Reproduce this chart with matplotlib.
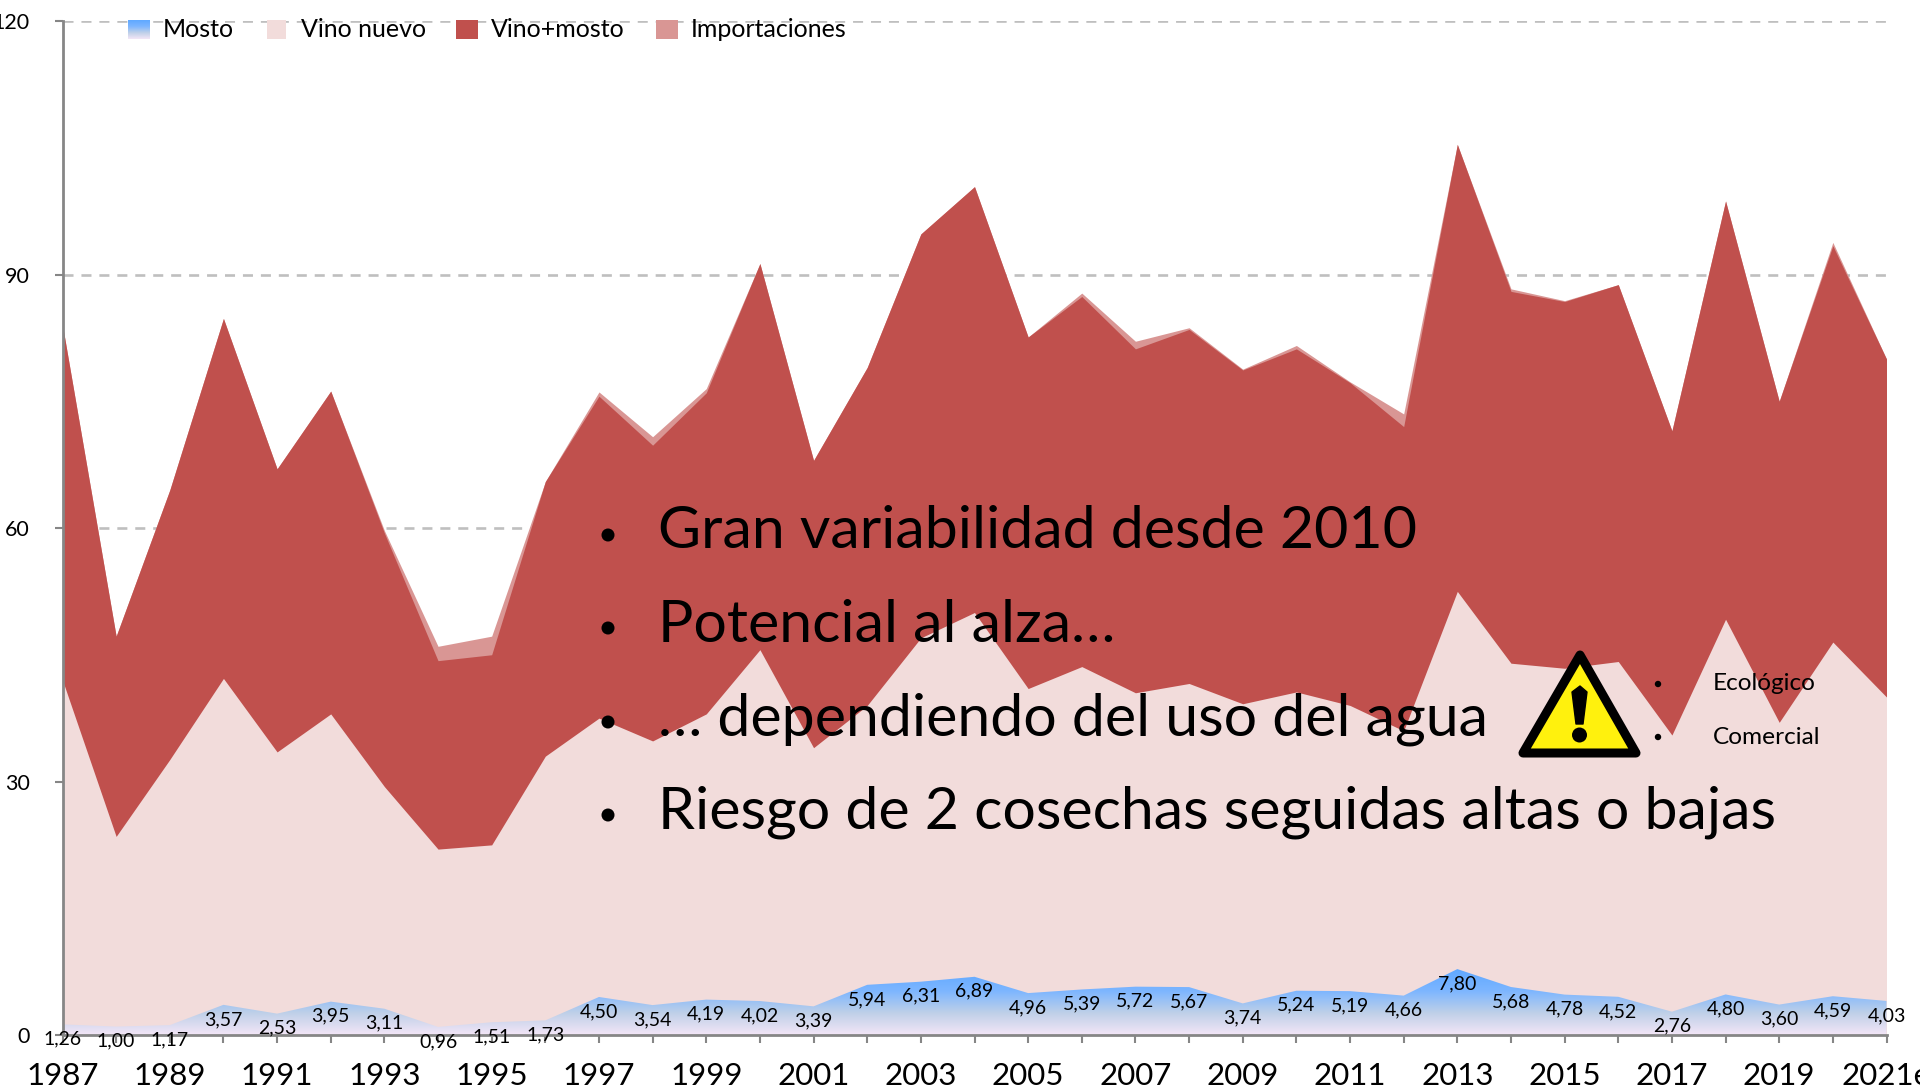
import numpy as np
import matplotlib
matplotlib.use("Agg")
import matplotlib.pyplot as plt
from matplotlib.colors import LinearSegmentedColormap
from matplotlib.patches import Polygon, Rectangle, Circle
from matplotlib.transforms import Affine2D

plt.rcParams['font.family'] = ['Lato', 'DejaVu Sans']

W, H = 1920, 1089

years = list(range(1987, 2022))
year_labels = [str(y) if y < 2021 else "2021e" for y in years]

mosto = [1.26, 1.00, 1.17, 3.57, 2.53, 3.95, 3.11, 0.96, 1.51, 1.73,
         4.50, 3.54, 4.19, 4.02, 3.39, 5.94, 6.31, 6.89, 4.96, 5.39,
         5.72, 5.67, 3.74, 5.24, 5.19, 4.66, 7.80, 5.68, 4.78, 4.52,
         2.76, 4.80, 3.60, 4.59, 4.03]

vino_nuevo = [42.0, 23.5, 32.6, 42.2, 33.5, 38.0, 29.4, 22.0, 22.5, 33.0,
              37.5, 34.8, 38.0, 45.6, 34.0, 39.0, 47.0, 50.0, 41.0, 43.6,
              40.5, 41.6, 39.2, 40.6, 39.0, 36.0, 52.5, 44.0, 43.4, 44.2,
              35.5, 49.2, 37.0, 46.5, 40.0]

vino_mosto = [84.0, 47.2, 64.5, 84.8, 67.0, 76.2, 59.4, 44.3, 45.0, 65.5,
              75.6, 69.8, 76.0, 91.3, 68.0, 79.0, 94.8, 100.4, 82.6, 87.4,
              81.2, 83.5, 78.7, 81.2, 77.2, 72.0, 105.4, 88.0, 86.8, 88.8,
              71.5, 98.7, 75.0, 93.4, 80.0]

importaciones = [0.0, 0.0, 0.0, 0.0, 0.0, 0.0, 0.3, 1.7, 2.2, 0.0,
                 0.5, 1.0, 0.5, 0.0, 0.0, 0.0, 0.0, 0.0, 0.0, 0.4,
                 0.9, 0.2, 0.1, 0.4, 0.1, 1.5, 0.0, 0.3, 0.1, 0.0,
                 0.0, 0.0, 0.0, 0.4, 0.0]

legend_names = ["Mosto", "Vino nuevo", "Vino+mosto", "Importaciones"]
y_ticks = [0, 30, 60, 90, 120]

bullets = ["Gran variabilidad desde 2010", "Potencial al alza…",
           "… dependiendo del uso del agua",
           "Riesgo de 2 cosechas seguidas altas o bajas"]
notes = ["Ecológico", "Comercial"]

ROJO = "#C0504D"
ROSA = "#F2DCDB"
IMPORT = "#D99694"
GRIS = "#868686"
azul = LinearSegmentedColormap.from_list("mosto", ["#F3E6F7", "#BFD0E8", "#7DB6FF", "#5FA8FF"])

x = np.array(years)
mosto_arr = np.array(mosto)
total = np.array(vino_mosto) + np.array(importaciones)

fig = plt.figure(figsize=(W / 100, H / 100), dpi=100, facecolor="white")
left, right, top, bottom = 62.5, 1886.5, 21, 1035
ax = fig.add_axes([left / W, 1 - bottom / H, (right - left) / W, (bottom - top) / H])

ax.fill_between(x, 0, total, color=IMPORT, lw=0, zorder=2)
ax.fill_between(x, 0, vino_mosto, color=ROJO, lw=0, zorder=3)
ax.fill_between(x, 0, vino_nuevo, color=ROSA, lw=0, zorder=4)

# degradado del mosto recortado con su propia area
area = ax.fill_between(x, 0, mosto_arr, color="none", lw=0, zorder=5)
grad = np.linspace(1, 0, 200).reshape(-1, 1)
img = ax.imshow(grad, cmap=azul, aspect="auto", zorder=5,
                extent=(x[0], x[-1], 0, max(mosto)))
img.set_clip_path(area.get_paths()[0], ax.transData)

ax.set_xlim(x[0], x[-1])
ax.set_ylim(0, 120)

for v, year in zip(mosto, years):
    ax.annotate(f"{v:.2f}".replace(".", ","), (year, v), xytext=(0, -10.5),
                textcoords="offset points", ha="center", va="center",
                fontsize=14, color="black", zorder=7, annotation_clip=False)

ax.set_yticks(y_ticks)
ax.set_yticklabels([str(t) for t in y_ticks], fontsize=15.5)
ax.set_xticks(years)
ax.set_xticklabels([lab if i % 2 == 0 else "" for i, lab in enumerate(year_labels)], fontsize=22.5)
ax.tick_params(axis="x", length=5.5, width=1.5, color=GRIS, pad=14)
ax.tick_params(axis="y", length=5.5, width=1.5, color=GRIS, pad=18)

ax.grid(axis="y", color="#BFBFBF", lw=1.9, ls=(0, (3.8, 3)), zorder=1)
ax.set_axisbelow(True)
for side in ["top", "right"]:
    ax.spines[side].set_visible(False)
for side in ["left", "bottom"]:
    ax.spines[side].set_color(GRIS)
    ax.spines[side].set_linewidth(2)
    ax.spines[side].set_zorder(6)

# todo lo que sigue va en pixeles de la imagen, como los cuadros de la diapositiva
px = Affine2D().scale(1, -1).translate(0, H)

swatches = [(128, 150, None, 163), (267, 286, ROSA, 301), (456, 478, ROJO, 491), (656, 678, IMPORT, 691)]
for (x0, x1, col, tx), name in zip(swatches, legend_names):
    if col is None:
        sw = fig.add_axes([x0 / W, 1 - 39 / H, (x1 - x0) / W, 19 / H])
        sw.imshow(grad, cmap=azul, aspect="auto")
        sw.axis("off")
    else:
        fig.add_artist(Rectangle((x0, 20), x1 - x0, 19, transform=px, color=col, lw=0))
    fig.text(tx / W, 1 - 29.5 / H, name, fontsize=18, va="center", ha="left", color="black")

for y_px, line in zip([532, 625, 719, 812], bullets):
    fig.text(658 / W, 1 - y_px / H, line, fontsize=42.6, va="center", ha="left", color="black")
    fig.add_artist(Circle((608, y_px + 3), 6.5, transform=px, color="black", lw=0))

for y_px, note in zip([684, 737], notes):
    fig.text(1713 / W, 1 - y_px / H, note, fontsize=17.6, va="center", ha="left", color="black")
    fig.add_artist(Circle((1658, y_px), 3.2, transform=px, color="black", lw=0))

# senal de aviso
fig.add_artist(Polygon([(1580, 655), (1523, 753), (1636, 753)], closed=True, transform=px,
                       facecolor="#FFF10D", edgecolor="black", lw=6.5, joinstyle="round"))
fig.add_artist(Polygon([(1572, 692), (1576, 724), (1583, 724), (1587, 692), (1580, 686)], closed=True,
                       transform=px, facecolor="black", edgecolor="black", lw=1, joinstyle="round"))
fig.add_artist(Circle((1579.5, 735), 7.5, transform=px, color="black", lw=0))

fig.savefig("out.png", dpi=100, facecolor="white")
